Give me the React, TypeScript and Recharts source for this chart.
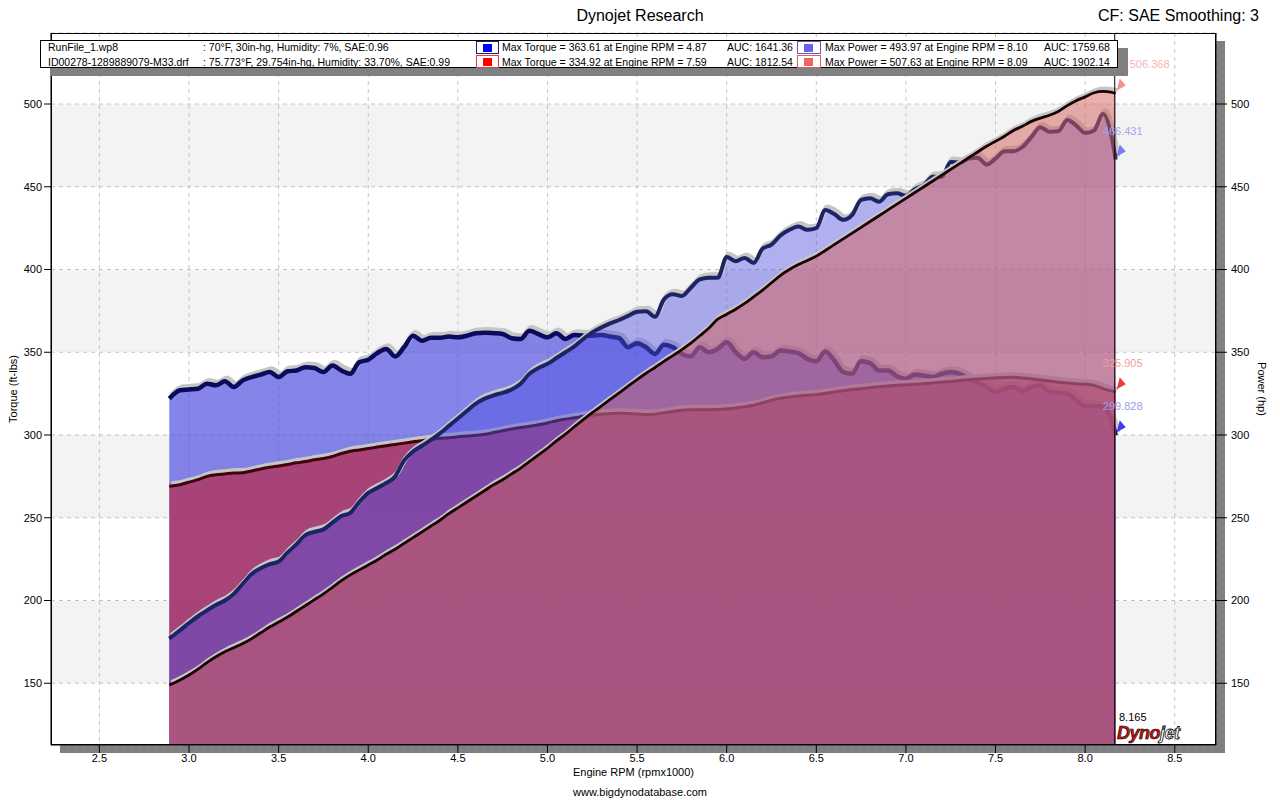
import React from 'react';
import {
  ComposedChart,
  Area,
  XAxis,
  YAxis,
  CartesianGrid,
  ReferenceLine,
  ReferenceDot,
  Label
} from 'recharts';

// engine rpm (x1000)
const rpm = [
  2.89, 2.95,
  3.0, 3.05, 3.1, 3.15, 3.2, 3.25, 3.3, 3.35, 3.4, 3.45,
  3.5, 3.55, 3.6, 3.65, 3.7, 3.75, 3.8, 3.85, 3.9, 3.95,
  4.0, 4.05, 4.1, 4.15, 4.2, 4.25, 4.3, 4.35, 4.4, 4.45,
  4.5, 4.55, 4.6, 4.65, 4.7, 4.75, 4.8, 4.85, 4.9, 4.95,
  5.0, 5.05, 5.1, 5.15, 5.2, 5.25, 5.3, 5.35, 5.4, 5.45,
  5.5, 5.55, 5.6, 5.65, 5.7, 5.75, 5.8, 5.85, 5.9, 5.95,
  6.0, 6.05, 6.1, 6.15, 6.2, 6.25, 6.3, 6.35, 6.4, 6.45,
  6.5, 6.55, 6.6, 6.65, 6.7, 6.75, 6.8, 6.85, 6.9, 6.95,
  7.0, 7.05, 7.1, 7.15, 7.2, 7.25, 7.3, 7.35, 7.4, 7.45,
  7.5, 7.55, 7.6, 7.65, 7.7, 7.75, 7.8, 7.85, 7.9, 7.95,
  8.0, 8.05, 8.1, 8.15, 8.17
];

// RunFile_1.wp8
const blueTorque = [
  322, 327,
  327.5, 328, 331, 330, 332.5, 329, 333, 335, 336.5, 338,
  335, 338.5, 339, 341, 340.5, 338, 342, 339, 337, 344,
  345.5, 349.5, 352, 347.5, 353, 360, 357, 358.8, 358.8, 359.5,
  359, 360, 361.5, 361.8, 361.5, 361, 358.5, 358, 363, 361,
  359, 361.5, 358, 360.5, 360, 360, 360.5, 359.5, 358.5, 353,
  355.5, 353, 349, 354.5, 353, 349, 347.5, 353, 350, 352,
  356, 350, 346, 350, 347, 347.5, 351, 350.5, 349.5, 346,
  344.5, 350.5, 345, 338, 337, 344.5, 343.5, 339, 339, 335.5,
  334, 336.5, 336, 335, 337, 338, 337, 334, 331.5, 329,
  326, 328, 329, 326.5, 329, 330, 326, 325.5, 325, 321,
  317.5, 317.5, 317, 308, 299.8
];

const bluePower = [
  177, 182,
  186.4, 190.5, 194, 197.3, 200, 204, 210, 216, 219.5, 222,
  223.5, 229, 234, 239.5, 241.5, 243, 247, 251, 253, 259.5,
  265, 268, 271, 275, 284.5, 290, 293.5, 297, 301, 305.5,
  310, 314.5, 319, 322, 324, 325.5, 327.5, 331, 337, 340.5,
  343, 346.5, 350, 353.5, 358, 362, 365, 367.5, 369.5, 372,
  374.5, 374.8, 371.5, 382, 385, 384, 389, 394, 395, 395,
  407.5, 405, 407, 404, 412.5, 415, 420.5, 424, 426, 424,
  425, 436, 433.5, 430, 433, 442, 443, 441, 445.5, 446,
  444.5, 448.5, 451, 456, 456, 465, 464.5, 467, 467.5, 463.5,
  467, 471.5, 471.5, 474, 480, 486, 483.3, 483.5, 490.4, 487,
  482.5, 484, 494, 479, 466.4
];

// ID00278-1289889079-M33.drf
const redTorque = [
  269, 270,
  271.5, 273, 275, 276, 276.5, 277, 277.2, 278.3, 279.5, 280.5,
  281.3, 282.2, 283.2, 284, 285, 285.8, 287, 288.8, 290.2, 291,
  291.8, 292.7, 293.5, 294.3, 295.1, 295.9, 296.6, 297.3, 298, 298.4,
  298.9, 299.4, 299.8, 300.4, 301.5, 302.6, 303.6, 304.5, 305.3, 306.2,
  307.3, 308.6, 309.6, 310.4, 311.3, 312, 312.5, 313, 313.2, 313,
  312.7, 312.4, 312.6, 313.4, 314.2, 315, 315.3, 315.3, 315.3, 315.4,
  315.8, 316.4, 317, 318, 319.5, 321, 322.2, 323, 323.6, 324,
  324.4, 325.2, 326, 326.8, 327.5, 328, 328.6, 329.2, 329.6, 330,
  330.3, 330.6, 331, 331.5, 332, 332.4, 333, 333.4, 333.8, 334.2,
  334.5, 334.8, 334.9, 334.4, 333.9, 333.2, 332.6, 331.9, 331.4, 331,
  330.7, 330, 328, 326.5, 325.9
];

const redPower = [
  149, 152,
  155, 158.5, 162.5, 166, 169, 171.5, 174, 177, 180.5, 184,
  187, 190, 193.5, 197, 200.5, 204, 208, 212, 215.5, 218.5,
  221.5, 224.5, 228, 231, 234.5, 238, 241.5, 245, 248.5, 252.5,
  256, 259.5, 263, 266.5, 270, 273, 276.5, 280, 284, 288,
  292, 296.5, 300.5, 305, 309.3, 313.5, 317.5, 321.5, 325.5, 329.5,
  333.5, 337.3, 340.8, 344.5, 348, 351.6, 355.5, 360, 364.5, 370,
  373, 376, 379.5, 383.5, 387.5, 392, 396.5, 400, 403, 405.5,
  408.1, 411.5, 415, 418.5, 422, 425.5, 429, 432.5, 436, 439.5,
  443, 446.5, 450, 453.5, 457, 460.5, 464, 467.5, 471, 474.5,
  477.5, 480.5, 484, 486.5, 489.5, 491.5, 493.2, 495.5, 499, 502,
  504.3, 506.8, 507.6, 507, 506.4
];

// cursor readout at the right end
const cursorRpm = 8.165;
const cursorValues = [
  { key: 'rp', value: 506.368, text: '#f5b4b4', mark: '#f49090', anchor: 'start' },
  { key: 'bp', value: 466.431, text: '#a4a4f2', mark: '#7a7af2', anchor: 'middle' },
  { key: 'rt', value: 325.905, text: '#f0a0a0', mark: '#ee3c3c', anchor: 'middle' },
  { key: 'bt', value: 299.828, text: '#9c9cec', mark: '#3c3cf0', anchor: 'middle' }
];

const xTicks = [2.5, 3.0, 3.5, 4.0, 4.5, 5.0, 5.5, 6.0, 6.5, 7.0, 7.5, 8.0, 8.5];
const yTicks = [150, 200, 250, 300, 350, 400, 450, 500];
const xMinor = Array.from({ length: 65 }, (_, i) => Math.round((2.3 + i * 0.1) * 10) / 10);
const yMinor = Array.from({ length: 43 }, (_, i) => 120 + i * 10);

const xDomain = [2.23, 8.73];
const yDomain = [112.7, 542.9];

const data = rpm.map((r, i) => ({
  rpm: r,
  bt: blueTorque[i],
  bp: bluePower[i],
  rt: redTorque[i],
  rp: redPower[i]
}));

const FONT = '"Liberation Sans", Arial, sans-serif';

const Arrow = (props: any) => {
  const { cx, cy, fill } = props;
  if (cx == null || cy == null) return null;
  return (
    <polygon
      points={`${cx + 2},${cy - 3} ${cx + 11},${cy - 8} ${cx + 5},${cy - 15}`}
      fill={fill}
    />
  );
};

const ValueLabel = (props: any) => {
  const vb = props.viewBox || {};
  const cx = vb.x + (vb.width || 0) / 2;
  const cy = vb.y + (vb.height || 0) / 2;
  const x = props.anchor === 'start' ? cx + 15 : cx + 8;
  return (
    <text x={x} y={cy - 25} textAnchor={props.anchor} fontSize={11} fill={props.fill} fontFamily={FONT}>
      {props.value}
    </text>
  );
};

const CursorLabel = (props: any) => {
  const vb = props.viewBox || {};
  return (
    <text x={vb.x + 18} y={vb.y + vb.height - 24} textAnchor="middle" fontSize={11} fill="#000" fontFamily={FONT}>
      8.165
    </text>
  );
};

const series = [
  { key: 'bt', fill: '#5050e0', opacity: 0.7, line: '#0b0b5c', width: 4.5 },
  { key: 'rt', fill: '#b82a47', opacity: 0.7, line: '#3e030c', width: 3 },
  { key: 'bp', fill: '#5050e0', opacity: 0.45, line: '#1c2466', width: 4 },
  { key: 'rp', fill: '#d4605a', opacity: 0.5, line: '#1a0303', width: 2.8 }
];

const legendRows = [
  {
    file: 'RunFile_1.wp8',
    cond: ': 70°F, 30in-hg, Humidity: 7%, SAE:0.96',
    tq: 'Max Torque = 363.61 at Engine RPM = 4.87',
    tqAuc: 'AUC: 1641.36',
    pw: 'Max Power = 493.97 at Engine RPM = 8.10',
    pwAuc: 'AUC: 1759.68',
    tqColor: '#0000ff',
    tqBorder: '#20206a',
    pwColor: '#6464ee',
    pwBorder: '#7a52a8'
  },
  {
    file: 'ID00278-1289889079-M33.drf',
    cond: ': 75.773°F, 29.754in-hg, Humidity: 33.70%, SAE:0.99',
    tq: 'Max Torque = 334.92 at Engine RPM = 7.59',
    tqAuc: 'AUC: 1812.54',
    pw: 'Max Power = 507.63 at Engine RPM = 8.09',
    pwAuc: 'AUC: 1902.14',
    tqColor: '#ff0000',
    tqBorder: '#d84040',
    pwColor: '#f06464',
    pwBorder: '#d86060'
  }
];

const abs = (left: number, top: number, extra: any = {}) => ({
  position: 'absolute' as const,
  left,
  top,
  whiteSpace: 'nowrap' as const,
  ...extra
});

const legendText = { fontSize: 10.5, lineHeight: '14px' };

export default function App() {
  return (
    <div style={{ position: 'relative', width: 1280, height: 800, background: '#fff', fontFamily: FONT, color: '#000' }}>
      <style>{`body{margin:0} .sh{transform:translate(2px,-3px)}`}</style>

      {/* plot frame shadow */}
      <div style={abs(60, 41, { width: 1165, height: 712, background: '#808080' })} />

      <div style={abs(0, 0)}>
        <ComposedChart
          width={1280}
          height={800}
          data={data}
          margin={{ top: 33, right: 14, bottom: 20, left: 11 }}
          style={{ fontFamily: FONT }}
        >
          <CartesianGrid
            yAxisId="left"
            stroke="#c4c4c4"
            strokeDasharray="4 4"
            fill="#ffffff"
            horizontalFill={['#ffffff', '#f3f3f3']}
          />
          <XAxis
            type="number"
            dataKey="rpm"
            domain={xDomain}
            allowDataOverflow
            ticks={xTicks}
            interval={0}
            tickFormatter={(v: number) => v.toFixed(1)}
            tickSize={8}
            tickMargin={1}
            height={35}
            axisLine={{ stroke: '#000' }}
            tickLine={{ stroke: '#000' }}
            tick={{ fill: '#000', fontSize: 11 }}
          >
            <Label value="Engine RPM (rpmx1000)" position="insideBottom" offset={4} style={{ fontSize: 11, fill: '#000' }} />
          </XAxis>
          <XAxis
            xAxisId="minor"
            type="number"
            dataKey="rpm"
            domain={xDomain}
            allowDataOverflow
            ticks={xMinor}
            interval={0}
            mirror
            height={0}
            tickSize={6}
            tickFormatter={() => ''}
            axisLine={false}
            tickLine={{ stroke: '#000' }}
          />
          <YAxis
            yAxisId="left"
            type="number"
            domain={yDomain}
            allowDataOverflow
            ticks={yTicks}
            interval={0}
            width={40}
            tickSize={7}
            tickMargin={2}
            axisLine={{ stroke: '#000' }}
            tickLine={{ stroke: '#000' }}
            tick={{ fill: '#000', fontSize: 11 }}
          >
            <Label value="Torque (ft-lbs)" angle={-90} position="insideLeft" offset={2} style={{ fontSize: 11, fill: '#000', textAnchor: 'middle' }} />
          </YAxis>
          <YAxis
            yAxisId="leftMinor"
            type="number"
            domain={yDomain}
            allowDataOverflow
            ticks={yMinor}
            interval={0}
            mirror
            width={0}
            tickSize={6}
            tickFormatter={() => ''}
            axisLine={false}
            tickLine={{ stroke: '#000' }}
          />
          <YAxis
            yAxisId="right"
            orientation="right"
            type="number"
            domain={yDomain}
            allowDataOverflow
            ticks={yTicks}
            interval={0}
            width={50}
            tickSize={11}
            tickMargin={4}
            axisLine={{ stroke: '#000' }}
            tickLine={{ stroke: '#000' }}
            tick={{ fill: '#000', fontSize: 11 }}
          >
            <Label value="Power (hp)" angle={90} position="insideRight" offset={4} style={{ fontSize: 11, fill: '#000', textAnchor: 'middle' }} />
          </YAxis>
          <YAxis
            yAxisId="rightMinor"
            orientation="right"
            type="number"
            domain={yDomain}
            allowDataOverflow
            ticks={yMinor}
            interval={0}
            mirror
            width={0}
            tickSize={6}
            tickFormatter={() => ''}
            axisLine={false}
            tickLine={{ stroke: '#000' }}
          />

          {series.flatMap((s) => [
            <Area
              key={s.key + '-fill'}
              yAxisId="left"
              type="monotone"
              dataKey={s.key}
              baseValue="dataMin"
              stroke="none"
              fill={s.fill}
              fillOpacity={s.opacity}
              isAnimationActive={false}
            />,
            <Area
              key={s.key + '-shadow'}
              className="sh"
              yAxisId="left"
              type="monotone"
              dataKey={s.key}
              baseValue="dataMin"
              stroke="#c6c6c6"
              strokeWidth={s.width + 1}
              fill="none"
              isAnimationActive={false}
            />,
            <Area
              key={s.key + '-line'}
              yAxisId="left"
              type="monotone"
              dataKey={s.key}
              baseValue="dataMin"
              stroke={s.line}
              strokeWidth={s.width}
              fill="none"
              isAnimationActive={false}
            />
          ])}

          <ReferenceLine yAxisId="left" x={cursorRpm} stroke="#000" strokeWidth={1} label={<CursorLabel />} />
          {cursorValues.map((c) => (
            <ReferenceDot
              key={c.key}
              yAxisId="left"
              x={cursorRpm}
              y={c.value}
              r={0}
              fill={c.mark}
              shape={(p: any) => <Arrow {...p} fill={c.mark} />}
              label={<ValueLabel value={String(c.value)} fill={c.text} anchor={c.anchor} />}
            />
          ))}
        </ComposedChart>
      </div>

      {/* plot frame */}
      <div style={abs(51, 33, { width: 1165, height: 712, border: '1px solid #000', boxSizing: 'border-box', pointerEvents: 'none' })} />

      {/* title */}
      <div style={abs(0, 7, { width: 1280, textAlign: 'center', fontSize: 16 })}>Dynojet Research</div>
      <div style={abs(1098, 7, { fontSize: 16 })}>CF: SAE Smoothing: 3</div>

      {/* legend */}
      <div style={abs(50, 48, { width: 1078, height: 28, background: '#808080' })} />
      <div style={abs(40, 40, { width: 1078, height: 28, background: '#fff', border: '1px solid #000', boxSizing: 'border-box' })} />
      {legendRows.map((r, i) => {
        const top = 40 + i * 14.5;
        return (
          <React.Fragment key={r.file}>
            <div style={abs(48, top, legendText)}>{r.file}</div>
            <div style={abs(203, top, legendText)}>{r.cond}</div>
            <div style={abs(476, top + 0.5, { width: 23, height: 13, border: `1px solid ${r.tqBorder}`, boxSizing: 'border-box' })}>
              <div style={{ position: 'absolute', left: 6, top: 2, width: 9, height: 8, background: r.tqColor }} />
            </div>
            <div style={abs(502, top, legendText)}>{r.tq}</div>
            <div style={abs(727, top, legendText)}>{r.tqAuc}</div>
            <div style={abs(797, top + 0.5, { width: 24, height: 13, border: `1px solid ${r.pwBorder}`, boxSizing: 'border-box' })}>
              <div style={{ position: 'absolute', left: 6, top: 2, width: 9, height: 8, background: r.pwColor }} />
            </div>
            <div style={abs(825, top, legendText)}>{r.pw}</div>
            <div style={abs(1044, top, legendText)}>{r.pwAuc}</div>
          </React.Fragment>
        );
      })}

      {/* logo */}
      <div style={abs(1117, 723, { fontSize: 18, fontWeight: 'bold', fontStyle: 'italic', lineHeight: '20px', letterSpacing: -0.5 })}>
        <span style={{ color: '#c81414', WebkitTextStroke: '0.6px #000' }}>Dyno</span>
        <span style={{ color: '#fff', WebkitTextStroke: '0.8px #000' }}>jet</span>
      </div>

      {/* footer */}
      <div style={abs(0, 786, { width: 1280, textAlign: 'center', fontSize: 11 })}>www.bigdynodatabase.com</div>
    </div>
  );
}
